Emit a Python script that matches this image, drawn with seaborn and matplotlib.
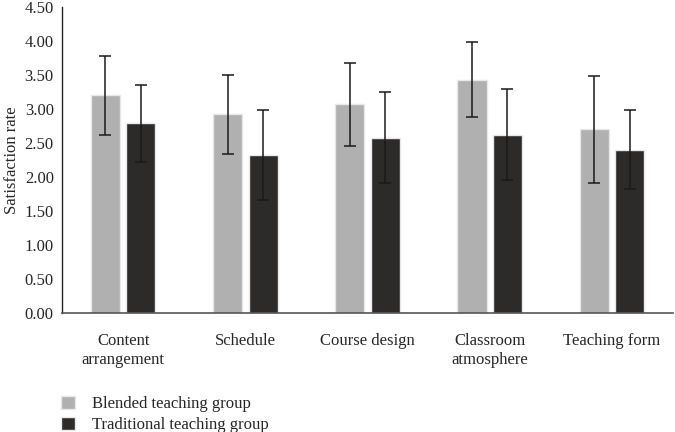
import numpy as np
import pandas as pd
import matplotlib.pyplot as plt
import seaborn as sns

# data
categories = ["Content\narrangement", "Schedule", "Course design",
              "Classroom\natmosphere", "Teaching form"]
groups = ["Blended teaching group", "Traditional teaching group"]
blended_mean = [3.20, 2.92, 3.07, 3.43, 2.70]
blended_err = [0.58, 0.58, 0.61, 0.55, 0.78]
traditional_mean = [2.79, 2.33, 2.58, 2.62, 2.40]
traditional_err = [0.57, 0.66, 0.67, 0.67, 0.58]
y_ticks = [0.0, 0.5, 1.0, 1.5, 2.0, 2.5, 3.0, 3.5, 4.0, 4.5]

colors = ["#b0b0b0", "#2d2a2a"]

df = pd.DataFrame({
    "category": categories * 2,
    "group": [groups[0]] * 5 + [groups[1]] * 5,
    "value": blended_mean + traditional_mean,
    "err": blended_err + traditional_err,
})

sns.set_style("white")
plt.rcParams["font.family"] = ["Liberation Serif", "DejaVu Serif"]

fs = 12

fig = plt.figure(figsize=(6.75, 4.32), dpi=100)
ax = fig.add_axes([0.092, 0.275, 0.905, 0.709])

sns.barplot(
    data=df,
    x="category",
    y="value",
    hue="group",
    order=categories,
    hue_order=groups,
    palette=colors,
    width=0.58,
    gap=0.18,
    errorbar=None,
    edgecolor="#e8e8e8",
    linewidth=1.0,
    ax=ax,
)

# error bars at the centres of the drawn bars
for container, g in zip(ax.containers, groups):
    sub = df[df["group"] == g].set_index("category").loc[categories]
    xs = [p.get_x() + p.get_width() / 2 for p in container]
    ax.errorbar(
        xs,
        sub["value"],
        yerr=sub["err"],
        fmt="none",
        ecolor="#1a1a1a",
        elinewidth=1.1,
        capsize=4,
        capthick=1.1,
    )

ax.set_ylim(0, 4.5)
ax.set_xlim(-0.5, 4.5)
ax.set_yticks(y_ticks)
ax.set_yticklabels([f"{t:.2f}" for t in y_ticks], fontsize=fs)
ax.tick_params(axis="x", labelsize=fs, length=0, pad=14)
ax.tick_params(axis="y", length=0, pad=6)
for lab in ax.get_xticklabels():
    lab.set_linespacing(1.25)

ax.set_xlabel("")
ax.set_ylabel("Satisfaction rate", fontsize=fs, labelpad=3)

sns.despine(ax=ax, top=True, right=True)
ax.spines["left"].set_color("#222222")
ax.spines["left"].set_linewidth(1.0)
ax.spines["bottom"].set_color("#555555")
ax.spines["bottom"].set_linewidth(1.2)

handles, labels = ax.get_legend_handles_labels()
ax.get_legend().remove()
fig.legend(
    handles,
    labels,
    loc="upper left",
    bbox_to_anchor=(61 / 675, 1 - 396 / 432),
    frameon=False,
    fontsize=fs,
    handlelength=0.85,
    handleheight=0.85,
    handletextpad=1.0,
    labelspacing=0.25,
    borderpad=0,
    borderaxespad=0,
)

fig.savefig("out.png", dpi=100)
plt.close(fig)
